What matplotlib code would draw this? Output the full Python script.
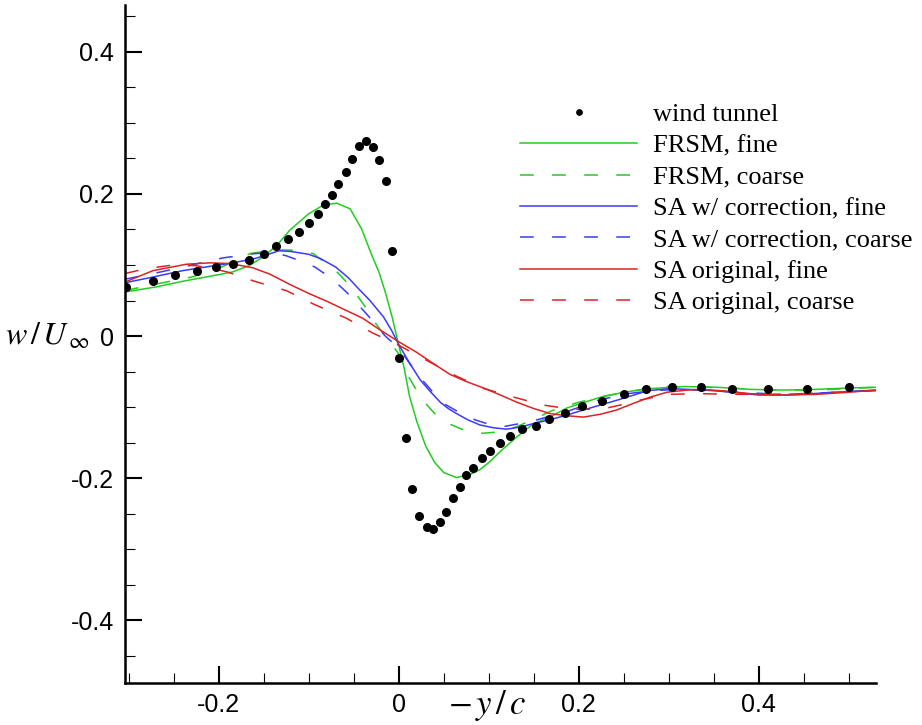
import matplotlib
matplotlib.use("Agg")
import matplotlib.pyplot as plt
from matplotlib.ticker import MultipleLocator, FuncFormatter

plt.rcParams['axes.unicode_minus'] = False
plt.rcParams['mathtext.fontset'] = 'stix'

# wind tunnel measurements
wt_x = [-0.303, -0.273, -0.248, -0.224, -0.203, -0.184, -0.166, -0.150, -0.136, -0.123,
        -0.111, -0.100, -0.090, -0.082, -0.074, -0.067, -0.059, -0.052, -0.044, -0.036,
        -0.029, -0.022, -0.014, -0.007, 0.000, 0.008, 0.015, 0.023, 0.031, 0.038,
        0.046, 0.053, 0.060, 0.068, 0.075, 0.083, 0.092, 0.101, 0.112, 0.123,
        0.137, 0.152, 0.167, 0.185, 0.204, 0.226, 0.250, 0.275, 0.304, 0.336,
        0.370, 0.410, 0.453, 0.500]
wt_y = [0.069, 0.078, 0.086, 0.092, 0.097, 0.101, 0.107, 0.116, 0.127, 0.136,
        0.146, 0.159, 0.172, 0.186, 0.198, 0.214, 0.231, 0.249, 0.267, 0.274,
        0.266, 0.248, 0.218, 0.119, -0.031, -0.143, -0.215, -0.253, -0.269, -0.272,
        -0.262, -0.248, -0.228, -0.212, -0.195, -0.185, -0.172, -0.162, -0.150, -0.140,
        -0.131, -0.126, -0.117, -0.108, -0.098, -0.091, -0.082, -0.074, -0.072, -0.072,
        -0.074, -0.075, -0.075, -0.072]

# FRSM
frsm_fine_x = [-0.304, -0.27, -0.24, -0.21, -0.185, -0.166, -0.15, -0.135, -0.121, -0.10,
               -0.084, -0.069, -0.054, -0.041, -0.031, -0.022, -0.015, -0.007, 0.0, 0.006,
               0.012, 0.02, 0.03, 0.04, 0.05, 0.064, 0.079, 0.09, 0.101, 0.113,
               0.131, 0.15, 0.168, 0.187, 0.224, 0.25, 0.279, 0.316, 0.353, 0.39,
               0.427, 0.464, 0.5, 0.53]
frsm_fine_y = [0.062, 0.069, 0.077, 0.084, 0.090, 0.099, 0.112, 0.128, 0.149, 0.172,
               0.184, 0.187, 0.179, 0.150, 0.117, 0.090, 0.062, 0.025, -0.013, -0.045,
               -0.085, -0.12, -0.155, -0.178, -0.192, -0.199, -0.195, -0.188, -0.177, -0.162,
               -0.142, -0.123, -0.114, -0.101, -0.086, -0.079, -0.074, -0.071, -0.072, -0.075,
               -0.076, -0.075, -0.073, -0.072]
frsm_coarse_x = [-0.304, -0.27, -0.23, -0.2, -0.165, -0.14, -0.12, -0.095, -0.07, -0.055,
                 -0.045, -0.035, -0.027, -0.015, 0.0, 0.01, 0.02, 0.03, 0.042, 0.055,
                 0.07, 0.09, 0.11, 0.13, 0.15, 0.17, 0.2, 0.23, 0.27, 0.3,
                 0.34, 0.38, 0.42, 0.46, 0.5, 0.53]
frsm_coarse_y = [0.064, 0.073, 0.083, 0.095, 0.116, 0.121, 0.121, 0.116, 0.092, 0.072,
                 0.055, 0.037, 0.02, 0.0, -0.025, -0.055, -0.077, -0.095, -0.112, -0.123,
                 -0.131, -0.137, -0.135, -0.128, -0.117, -0.105, -0.093, -0.084, -0.075, -0.071,
                 -0.072, -0.074, -0.076, -0.076, -0.074, -0.072]

# SA with rotation correction
sac_fine_x = [-0.304, -0.273, -0.24, -0.21, -0.184, -0.16, -0.147, -0.133, -0.12, -0.1,
              -0.087, -0.07, -0.056, -0.045, -0.032, -0.017, -0.008, 0.0, 0.012, 0.024,
              0.035, 0.046, 0.055, 0.064, 0.077, 0.09, 0.105, 0.12, 0.135, 0.15,
              0.17, 0.187, 0.205, 0.224, 0.243, 0.261, 0.276, 0.3, 0.34, 0.37,
              0.4, 0.43, 0.46, 0.5, 0.53]
sac_fine_y = [0.075, 0.083, 0.092, 0.098, 0.103, 0.109, 0.114, 0.12, 0.119, 0.115,
              0.109, 0.097, 0.082, 0.067, 0.05, 0.027, 0.008, -0.012, -0.038, -0.062,
              -0.078, -0.093, -0.102, -0.109, -0.118, -0.125, -0.129, -0.131, -0.128, -0.123,
              -0.117, -0.111, -0.104, -0.097, -0.09, -0.083, -0.077, -0.074, -0.076, -0.079,
              -0.083, -0.083, -0.081, -0.078, -0.076]
sac_coarse_x = [-0.304, -0.265, -0.23, -0.195, -0.16, -0.14, -0.125, -0.11, -0.093, -0.078,
                -0.065, -0.055, -0.045, -0.035, -0.015, 0.0, 0.013, 0.027, 0.04, 0.05,
                0.068, 0.085, 0.1, 0.118, 0.135, 0.153, 0.17, 0.185, 0.205, 0.222,
                0.24, 0.255, 0.28, 0.31, 0.35, 0.39, 0.43, 0.47, 0.5, 0.53]
sac_coarse_y = [0.08, 0.09, 0.1, 0.11, 0.116, 0.117, 0.113, 0.106, 0.097, 0.084,
                0.07, 0.058, 0.044, 0.03, 0.0, -0.017, -0.04, -0.063, -0.082, -0.095,
                -0.108, -0.118, -0.124, -0.127, -0.123, -0.118, -0.112, -0.107, -0.098, -0.09,
                -0.085, -0.081, -0.077, -0.075, -0.077, -0.08, -0.082, -0.08, -0.078, -0.077]

# SA original
sao_fine_x = [-0.304, -0.273, -0.236, -0.21, -0.187, -0.162, -0.143, -0.12, -0.1, -0.08,
              -0.06, -0.04, -0.02, 0.0, 0.02, 0.04, 0.057, 0.075, 0.094, 0.113,
              0.131, 0.15, 0.168, 0.186, 0.205, 0.224, 0.242, 0.26, 0.279, 0.298,
              0.32, 0.335, 0.36, 0.39, 0.427, 0.464, 0.5, 0.531]
sao_fine_y = [0.076, 0.092, 0.101, 0.103, 0.102, 0.096, 0.087, 0.072, 0.060, 0.049,
              0.037, 0.025, 0.008, -0.008, -0.023, -0.04, -0.054, -0.064, -0.073, -0.083,
              -0.093, -0.102, -0.109, -0.112, -0.114, -0.11, -0.104, -0.095, -0.086, -0.079,
              -0.076, -0.075, -0.077, -0.081, -0.083, -0.082, -0.079, -0.076]
sao_coarse_x = [-0.304, -0.28, -0.25, -0.225, -0.2, -0.19, -0.16, -0.125, -0.093, -0.058,
                -0.03, 0.0, 0.035, 0.065, 0.095, 0.128, 0.16, 0.193, 0.215, 0.232,
                0.25, 0.268, 0.3, 0.335, 0.37, 0.41, 0.45, 0.49, 0.53]
sao_coarse_y = [0.088, 0.095, 0.1, 0.099, 0.093, 0.09, 0.077, 0.064, 0.044, 0.025,
                0.005, -0.013, -0.037, -0.057, -0.074, -0.086, -0.097, -0.103, -0.103, -0.101,
                -0.096, -0.09, -0.082, -0.081, -0.082, -0.082, -0.081, -0.079, -0.077]

green = '#22cc22'
blue = '#3a3aff'
red = '#dd2222'
dash = (0, (9, 12))

fig = plt.figure(figsize=(9.22, 7.25), dpi=100)
ax = fig.add_axes([0.1356, 0.058, 0.8145, 0.935])

ax.plot(wt_x, wt_y, 'o', color='black', markersize=5.5, label='wind tunnel', zorder=5)
ax.plot(frsm_fine_x, frsm_fine_y, color=green, lw=1.1, label='FRSM, fine')
ax.plot(frsm_coarse_x, frsm_coarse_y, color=green, lw=1.1, linestyle=dash, label='FRSM, coarse')
ax.plot(sac_fine_x, sac_fine_y, color=blue, lw=1.1, label='SA w/ correction, fine')
ax.plot(sac_coarse_x, sac_coarse_y, color=blue, lw=1.1, linestyle=dash, label='SA w/ correction, coarse')
ax.plot(sao_fine_x, sao_fine_y, color=red, lw=1.1, label='SA original, fine')
ax.plot(sao_coarse_x, sao_coarse_y, color=red, lw=1.1, linestyle=dash, label='SA original, coarse')

ax.set_xlim(-0.304, 0.53)
ax.set_ylim(-0.488, 0.4656)

for s in ['top', 'right']:
    ax.spines[s].set_visible(False)
for s in ['left', 'bottom']:
    ax.spines[s].set_linewidth(1.8)

ax.xaxis.set_major_locator(MultipleLocator(0.2))
ax.xaxis.set_minor_locator(MultipleLocator(0.05))
ax.yaxis.set_major_locator(MultipleLocator(0.2))
ax.yaxis.set_minor_locator(MultipleLocator(0.05))
fmt = FuncFormatter(lambda v, p: '0' if abs(v) < 1e-9 else '%g' % round(v, 2))
ax.xaxis.set_major_formatter(fmt)
ax.yaxis.set_major_formatter(fmt)
ax.tick_params(which='major', direction='in', length=12, width=1.5, labelsize=18, pad=7)
ax.tick_params(which='minor', direction='in', length=7, width=0.8)
ax.tick_params(axis='y', which='major', pad=8)
ax.tick_params(top=False, right=False, which='both')
for lab in ax.get_xticklabels() + ax.get_yticklabels():
    lab.set_fontfamily('Liberation Sans')

ax.set_ylabel(r'$w\,/\,U_{\,\infty}$', fontsize=23, rotation=0, ha='center', va='center')
ax.yaxis.set_label_coords(-0.103, 0.512)
ax.set_xlabel(r'$-\,y\,/\,c$', fontsize=25)
ax.xaxis.set_label_coords(0.482, -0.034)
ax.xaxis.label.set_verticalalignment('center')

leg = ax.legend(loc='upper left', bbox_to_anchor=(0.526, 0.856), frameon=False,
                prop={'family': 'Liberation Serif', 'size': 19},
                handlelength=4.45, handletextpad=0.6, labelspacing=0.3,
                borderpad=0, borderaxespad=0, markerscale=0.7)

fig.savefig('out.png', dpi=100)
